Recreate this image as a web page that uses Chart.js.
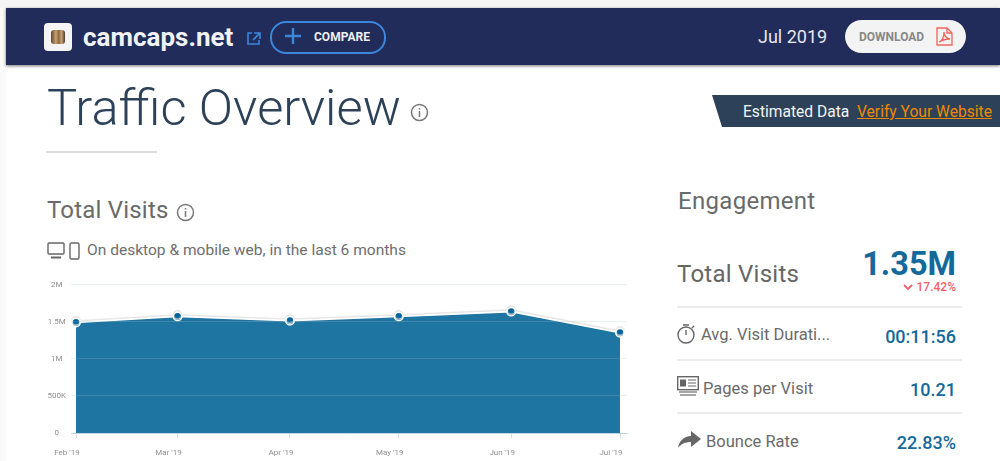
<!DOCTYPE html>
<html>
<head>
<meta charset="utf-8">
<script src="https://cdn.jsdelivr.net/npm/chart.js@4"></script>
<style>
html, body { margin:0; padding:0; background:#fff; }
body { width:1000px; height:461px; overflow:hidden; position:relative; font-family:Roboto, sans-serif; color:#666; }
.abs { position:absolute; white-space:nowrap; }
#topstrip { left:0; top:0; width:1000px; height:8px; background:#f5f5f5; }
#sidestrip { left:0; top:8px; width:6px; height:453px; background:#fafafa; }
#nav { left:6px; top:8px; width:994px; height:57px; background:#212c5a; box-shadow:0 1px 3px rgba(0,0,0,.55); }
#logo { left:44px; top:23px; width:28px; height:28px; background:#f4f4f4; border-radius:4px; }
#logo i { position:absolute; left:7px; top:7px; width:14px; height:14px; border-radius:3px; background:linear-gradient(90deg,#5b4630,#c9a070 35%,#8c6a45 55%,#c9a070 75%,#4d3b2a); }
#site { left:83px; top:20px; font-size:26px; line-height:34px; font-weight:700; color:#f2f3f6; }
#compare { left:270px; top:21px; width:112px; height:29px; border:2px solid #3a87dc; border-radius:16px; }
#comparetxt { left:314px; top:28px; font-size:12px; line-height:18px; font-weight:700; color:#eef0f4; }
#date { left:758px; top:25px; font-size:18px; line-height:24px; color:#e6e8ee; }
#dl { left:845px; top:20px; width:121px; height:33px; background:#f3f3f3; border-radius:17px; }
#dltxt { left:859px; top:28px; font-size:12px; line-height:18px; font-weight:700; color:#888; }
#title { left:47px; top:77px; font-size:50.6px; line-height:62px; font-weight:300; color:#2d4259; }
#rule { left:46px; top:151px; width:111px; height:2px; background:#dcdcdc; }
#ribbontxt { left:743px; top:101px; font-size:15.6px; line-height:22px; color:#f2f4f6; }
#verify { left:857px; top:101px; font-size:15.6px; line-height:22px; color:#ef8a00; text-decoration:underline; }
#tv { left:47px; top:195px; font-size:24px; line-height:30px; color:#6a6a6a; letter-spacing:.2px; }
#sub { left:87px; top:240px; font-size:15.55px; line-height:20px; color:#6e6e6e; }
#chartbox { left:40px; top:275px; width:600px; height:186px; }
#eng { left:678px; top:186px; font-size:24px; line-height:30px; color:#6a6a6a; letter-spacing:.3px; }
#tv2 { left:677px; top:259px; font-size:24px; line-height:30px; color:#666; letter-spacing:.25px; }
#big { right:44px; top:245px; font-size:32.5px; line-height:38px; font-weight:700; color:#14699a; }
#delta { right:44px; top:280px; font-size:12px; line-height:14px; font-weight:500; color:#f0606a; }
.div { left:677px; width:285px; height:2px; background:#ececec; }
.lbl { font-size:16.5px; line-height:22px; color:#6a6a6a; }
.val { right:44px; font-size:18px; line-height:22px; font-weight:500; color:#14699a; }
</style>
</head>
<body>
<div class="abs" id="topstrip"></div>
<div class="abs" id="sidestrip"></div>
<div class="abs" id="nav"></div>
<div class="abs" id="logo"><i></i></div>
<div class="abs" id="site">camcaps.net</div>
<svg class="abs" style="left:246px;top:31px" width="16" height="15" viewBox="0 0 16 15" fill="none" stroke="#3a87dc" stroke-width="1.6"><path d="M6 2H2v11h11V9M8 2h6v6M14 2L7 9"/></svg>
<div class="abs" id="compare"></div>
<svg class="abs" style="left:284px;top:27px" width="18" height="18" viewBox="0 0 18 18" stroke="#3a87dc" stroke-width="2.4"><path d="M9 1v16M1 9h16"/></svg>
<div class="abs" id="comparetxt">COMPARE</div>
<div class="abs" id="date">Jul 2019</div>
<div class="abs" id="dl"></div>
<div class="abs" id="dltxt">DOWNLOAD</div>
<svg class="abs" style="left:936px;top:27px" width="17" height="19" viewBox="0 0 17 19" fill="none" stroke="#f2645f" stroke-width="1.3"><path d="M1 1h10l5 5v12H1zM11 1v5h5M3 15c3-1 5-5 5-10 0 4 2 6 6 7-4 0-8 1-11 3z"/></svg>

<div class="abs" id="title">Traffic Overview</div>
<svg class="abs" style="left:410px;top:103px" width="19" height="19" viewBox="0 0 19 19" fill="none" stroke="#777" stroke-width="1.5"><circle cx="9.5" cy="9.5" r="8"/><path d="M9.5 8v6M9.5 5v1.6"/></svg>
<div class="abs" id="rule"></div>

<svg class="abs" style="left:712px;top:95px" width="288" height="33"><polygon points="0,0 288,0 288,32 10,32" fill="#2d4259"/></svg>
<div class="abs" id="ribbontxt">Estimated Data</div>
<div class="abs" id="verify">Verify Your Website</div>

<div class="abs" id="tv">Total Visits</div>
<svg class="abs" style="left:176px;top:203px" width="19" height="19" viewBox="0 0 19 19" fill="none" stroke="#777" stroke-width="1.5"><circle cx="9.5" cy="9.5" r="8"/><path d="M9.5 8v6M9.5 5v1.6"/></svg>
<svg class="abs" style="left:47px;top:242px" width="34" height="18" viewBox="0 0 34 18" fill="none" stroke="#666" stroke-width="1.4"><rect x="1" y="1" width="16" height="11" rx="1"/><path d="M4 15.5h10" stroke-width="2"/><rect x="23" y="1" width="9" height="16" rx="1.5"/></svg>
<div class="abs" id="sub">On desktop &amp; mobile web, in the last 6 months</div>

<div class="abs" id="chartbox"><canvas id="visits" width="600" height="186"></canvas></div>

<div class="abs" id="eng">Engagement</div>
<div class="abs" id="tv2">Total Visits</div>
<div class="abs" id="big">1.35M</div>
<svg class="abs" style="left:903px;top:284px" width="10" height="7" viewBox="0 0 10 7" fill="none" stroke="#f0606a" stroke-width="1.8"><path d="M1 1l4 4 4-4"/></svg>
<div class="abs" id="delta">17.42%</div>
<div class="abs div" style="top:306px"></div>
<svg class="abs" style="left:677px;top:323px" width="20" height="21" viewBox="0 0 20 21" fill="none" stroke="#666" stroke-width="1.4"><circle cx="9" cy="12" r="8"/><path d="M9 7v5M6 2h6M15 5l2-2"/></svg>
<div class="abs lbl" style="left:701px;top:324px">Avg. Visit Durati...</div>
<div class="abs val" style="top:326px">00:11:56</div>
<div class="abs div" style="top:359px"></div>
<svg class="abs" style="left:677px;top:376px" width="22" height="20" viewBox="0 0 22 20"><rect x="0.7" y="0.7" width="20.6" height="13" fill="none" stroke="#666" stroke-width="1.4"/><rect x="3" y="3.5" width="6" height="7" fill="#666"/><path d="M11 4h8M11 7h8M11 10h8" stroke="#666"/><path d="M2 16h18M3 19h16" stroke="#888" stroke-width="1.6"/></svg>
<div class="abs lbl" style="left:703px;top:378px">Pages per Visit</div>
<div class="abs val" style="top:379px">10.21</div>
<div class="abs div" style="top:412px"></div>
<svg class="abs" style="left:677px;top:430px" width="25" height="19" viewBox="0 0 25 19" fill="#666"><path d="M14 1l10 8-10 8v-5C8 12 4 14 1 18c1-7 6-12 13-12z"/></svg>
<div class="abs lbl" style="left:706px;top:431px">Bounce Rate</div>
<div class="abs val" style="top:432px">22.83%</div>

<script>
const months = ['2019-02-01', '2019-03-01', '2019-04-01', '2019-05-01', '2019-06-01', '2019-07-01'];
const monthLabels = ["Feb '19", "Mar '19", "Apr '19", "May '19", "Jun '19", "Jul '19"];
const totalVisits = [1488000, 1570000, 1512000, 1570000, 1634000, 1350000];
const yTicks = [0, 500000, 1000000, 1500000, 2000000];
const yTickLabels = ['0', '500K', '1M', '1.5M', '2M'];

const DAY = 86400000;
const monthTimes = months.map(d => Date.parse(d));

// grey halo above the white line
const lineShadow = {
  id: 'lineShadow',
  beforeDatasetDraw(chart) {
    const c = chart.ctx;
    c.save();
    c.shadowColor = '#e2e2e2';
    c.shadowBlur = 1;
    c.shadowOffsetY = -1.5;
  },
  afterDatasetDraw(chart) {
    chart.ctx.restore();
  }
};

new Chart(document.getElementById('visits').getContext('2d'), {
  type: 'line',
  data: {
    datasets: [{
      data: monthTimes.map((t, i) => ({ x: t, y: totalVisits[i] })),
      fill: 'origin',
      backgroundColor: '#1e75a2',
      borderColor: '#ffffff',
      borderWidth: 1.6,
      tension: 0,
      pointRadius: 4.2,
      pointBorderWidth: 1.4,
      pointBackgroundColor: '#06659a',
      pointBorderColor: '#ffffff',
      clip: false
    }]
  },
  options: {
    responsive: false,
    animation: false,
    devicePixelRatio: 1,
    layout: { padding: { top: 9.5, right: 13, left: 0, bottom: 0 } },
    plugins: { legend: { display: false }, tooltip: { enabled: false } },
    scales: {
      x: {
        type: 'linear',
        min: monthTimes[0] - 1.38 * DAY,
        max: monthTimes[5] + 1.93 * DAY,
        afterBuildTicks(axis) { axis.ticks = monthTimes.map(v => ({ value: v })); },
        afterFit(axis) { axis.height = 28; axis.paddingLeft = 0; axis.paddingRight = 0; },
        border: { display: true, color: '#c9dfea', width: 1 },
        grid: { drawOnChartArea: false, drawTicks: true, tickLength: 5, color: '#c9dfea' },
        ticks: {
          autoSkip: false,
          maxRotation: 0,
          padding: 10,
          labelOffset: -9,
          color: '#8f8f8f',
          font: { family: 'Roboto', size: 8 },
          callback(v) { return monthLabels[monthTimes.indexOf(v)]; }
        }
      },
      y: {
        min: 0,
        max: 2000000,
        afterBuildTicks(axis) { axis.ticks = yTicks.map(v => ({ value: v })); },
        afterFit(axis) { axis.width = 31; axis.paddingTop = 0; axis.paddingBottom = 0; },
        border: { display: false },
        grid: { z: 1, drawTicks: false, color: 'rgba(170,190,200,0.25)' },
        ticks: {
          padding: 5,
          crossAlign: 'center',
          color: '#8f8f8f',
          font: { family: 'Roboto', size: 8 },
          callback(v) { return yTickLabels[yTicks.indexOf(v)]; }
        }
      }
    }
  },
  plugins: [lineShadow]
});
</script>
</body>
</html>
